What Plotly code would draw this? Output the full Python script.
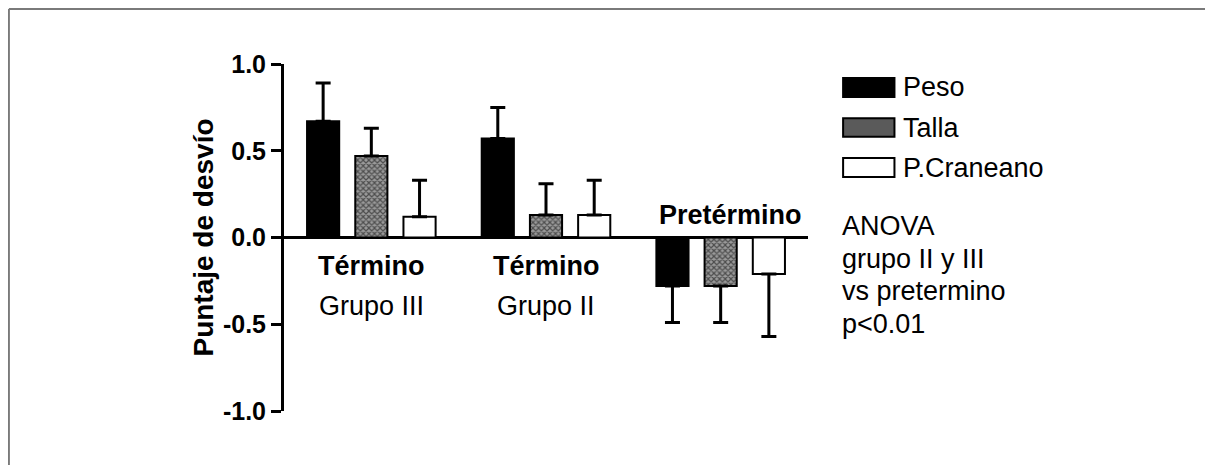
import plotly.graph_objects as go

# ---- data ----
groups = ["Grupo III", "Grupo II", "Pretérmino"]
series = ["Peso", "Talla", "P.Craneano"]
peso = [0.67, 0.57, -0.28]
peso_err = [0.22, 0.18, 0.21]
talla = [0.47, 0.13, -0.28]
talla_err = [0.16, 0.18, 0.21]
craneano = [0.12, 0.13, -0.21]
craneano_err = [0.21, 0.20, 0.36]
group_titles = ["Término", "Término", "Pretérmino"]
group_subtitles = ["Grupo III", "Grupo II", ""]
anova_lines = ["ANOVA", "grupo II y III", "vs pretermino", "p<0.01"]
yticks = [-1.0, -0.5, 0.0, 0.5, 1.0]

FONT = "Arial, Liberation Sans, sans-serif"

def up_down(vals, errs):
    up = [e if v >= 0 else 0 for v, e in zip(vals, errs)]
    down = [e if v < 0 else 0 for v, e in zip(vals, errs)]
    return up, down

styles = [
    dict(color="black", line=dict(color="black", width=2)),
    dict(color="#8a8a8a", line=dict(color="black", width=2),
         pattern=dict(shape="x", size=4, solidity=0.5, fgcolor="black", bgcolor="#9a9a9a")),
    dict(color="white", line=dict(color="black", width=2)),
]

fig = go.Figure()
for name, vals, errs, st in zip(series, [peso, talla, craneano],
                                [peso_err, talla_err, craneano_err], styles):
    up, down = up_down(vals, errs)
    fig.add_trace(go.Bar(
        x=groups, y=vals, name=name, marker=st, showlegend=False,
        error_y=dict(type="data", symmetric=False, array=up, arrayminus=down,
                     color="black", thickness=3, width=7.5),
    ))

fig.update_layout(
    width=1205, height=457,
    margin=dict(l=276, r=405, t=56, b=54),
    paper_bgcolor="white", plot_bgcolor="white",
    barmode="group", bargap=0.172, bargroupgap=0.333,
    font=dict(family=FONT, color="black"),
    xaxis=dict(visible=False, range=[-0.5, 2.5]),
    yaxis=dict(range=[-1, 1], showgrid=False, zeroline=True, zerolinewidth=3,
               zerolinecolor="black", showline=True, linewidth=3, linecolor="black",
               ticks="outside", ticklen=10, tickwidth=3, tickcolor="black",
               tickvals=yticks, ticktext=["<b>%.1f</b>" % v for v in yticks],
               tickfont=dict(size=25, family=FONT),
               title=dict(text="<b>Puntaje de desvío</b>", font=dict(size=28, family=FONT),
                          standoff=2)),
)

# group labels
label_y = {"title_pos": -0.165, "sub": -0.397, "title_neg": 0.129}
for g, vals, t, s in zip(groups, zip(peso, talla, craneano), group_titles, group_subtitles):
    positive = max(vals) > 0
    fig.add_annotation(x=g, y=label_y["title_pos"] if positive else label_y["title_neg"],
                       xref="x", yref="y", text="<b>%s</b>" % t, showarrow=False,
                       xshift=0 if positive else 10,
                       font=dict(size=27, family=FONT), yanchor="middle")
    if s:
        fig.add_annotation(x=g, y=label_y["sub"], xref="x", yref="y", text=s,
                           showarrow=False, font=dict(size=27, family=FONT), yanchor="middle")

# manual legend
box_x0, box_x1 = 1.067, 1.165
legend_rows = [(0.960, 0.905), (0.844, 0.790), (0.729, 0.674)]
legend_fill = {"Peso": "black", "Talla": "#5a5a5a", "P.Craneano": "white"}
for name, (y1, y0) in zip(series, legend_rows):
    fig.add_shape(type="rect", xref="paper", yref="paper", x0=box_x0, x1=box_x1,
                  y0=y0, y1=y1, fillcolor=legend_fill[name], line=dict(color="black", width=2))
    fig.add_annotation(x=1.178, y=(y0 + y1) / 2, xref="paper", yref="paper", text=name,
                       showarrow=False, xanchor="left", yanchor="middle",
                       font=dict(size=27, family=FONT))

# ANOVA note
for txt, yy in zip(anova_lines, [0.533, 0.439, 0.346, 0.252]):
    fig.add_annotation(x=1.061, y=yy, xref="paper", yref="paper", text=txt,
                       showarrow=False, xanchor="left", yanchor="middle",
                       font=dict(size=27, family=FONT))

# frame (top and left edges)
fig.add_shape(type="line", xref="paper", yref="paper", x0=-0.525, x1=1.8, y0=1.1585, y1=1.1585,
              line=dict(color="#7a7a7a", width=2))
fig.add_shape(type="line", xref="paper", yref="paper", x0=-0.525, x1=-0.525, y0=1.1585, y1=-0.2,
              line=dict(color="#7a7a7a", width=2))

fig.write_html("out.html")
